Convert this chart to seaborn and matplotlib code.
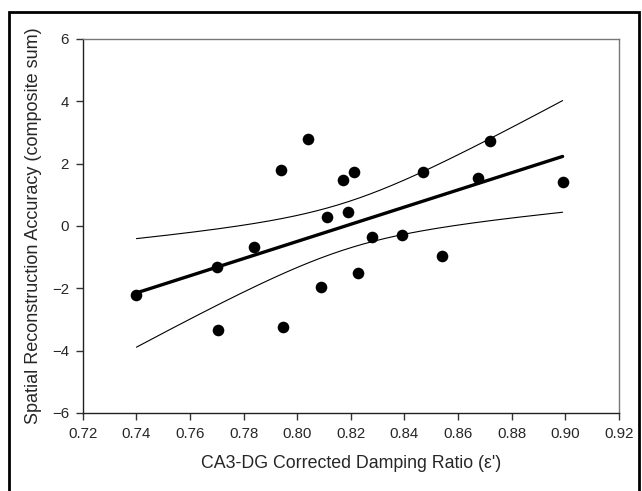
import numpy as np
import pandas as pd
import seaborn as sns
import matplotlib.pyplot as plt
from matplotlib.patches import Rectangle

# values
damping = [0.740, 0.770, 0.7705, 0.784, 0.794, 0.7945, 0.804, 0.809, 0.811, 0.817,
           0.819, 0.821, 0.8225, 0.828, 0.839, 0.847, 0.854, 0.8675, 0.872, 0.899]
accuracy = [-2.22, -1.32, -3.33, -0.67, 1.80, -3.24, 2.77, -1.97, 0.27, 1.46,
            0.43, 1.74, -1.50, -0.35, -0.29, 1.74, -0.97, 1.55, 2.72, 1.40]

xticks = [0.72, 0.74, 0.76, 0.78, 0.80, 0.82, 0.84, 0.86, 0.88, 0.90, 0.92]
yticks = [-6, -4, -2, 0, 2, 4, 6]

df = pd.DataFrame({'damping': damping, 'accuracy': accuracy})

sns.set_style('white')
plt.rcParams['font.family'] = ['Liberation Sans', 'DejaVu Sans']

fig = plt.figure(figsize=(6.42, 4.91), dpi=100)
ax = fig.add_axes([0.129, 0.159, 0.835, 0.762])

sns.regplot(data=df, x='damping', y='accuracy', ci=None, ax=ax,
            scatter_kws={'s': 70, 'color': 'black', 'alpha': 1, 'zorder': 3, 'linewidths': 0},
            line_kws={'color': 'black', 'lw': 2.4})

# 95% confidence band of the fit, drawn as two thin lines
x = np.array(damping)
y = np.array(accuracy)
n = len(x)
b, a = np.polyfit(x, y, 1)
resid = y - (a + b * x)
s = np.sqrt(np.sum(resid ** 2) / (n - 2))
xs = np.linspace(x.min(), x.max(), 200)
t = 2.101
half = t * s * np.sqrt(1 / n + (xs - x.mean()) ** 2 / np.sum((x - x.mean()) ** 2))
fit = a + b * xs
sns.lineplot(x=xs, y=fit + half, color='black', lw=0.8, ax=ax)
sns.lineplot(x=xs, y=fit - half, color='black', lw=0.8, ax=ax)

ax.set_xlim(0.72, 0.92)
ax.set_ylim(-6, 6)
ax.set_xticks(xticks)
ax.set_xticklabels(['%.2f' % v for v in xticks])
ax.set_yticks(yticks)
ax.set_yticklabels([str(v).replace('-', '\u2212') for v in yticks])
ax.tick_params(axis='both', direction='out', length=5, width=1, color='#333333',
               labelsize=10.8, bottom=True, left=True, pad=5)
for side in ['left', 'bottom']:
    ax.spines[side].set_color('#222222')
    ax.spines[side].set_linewidth(1)
for side in ['top', 'right']:
    ax.spines[side].set_color('#777777')
    ax.spines[side].set_linewidth(1)

ax.set_xlabel("CA3-DG Corrected Damping Ratio (\u03b5')", fontsize=12.8, labelpad=10)
ax.set_ylabel('Spatial Reconstruction Accuracy (composite sum)', fontsize=13, labelpad=7)

fig.patches.append(Rectangle((9 / 642, -0.01), 630 / 642, 1.01 - 12 / 491, transform=fig.transFigure,
                             fill=False, edgecolor='black', lw=2))

fig.savefig('out.png', dpi=100)
